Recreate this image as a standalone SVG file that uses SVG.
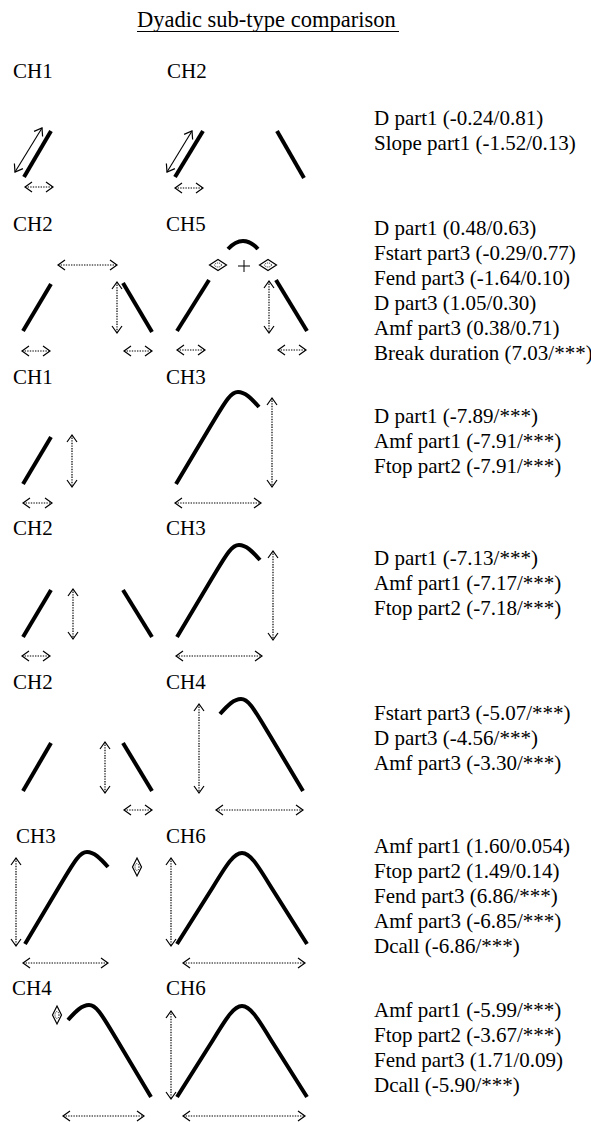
<svg xmlns="http://www.w3.org/2000/svg" width="591" height="1122" viewBox="0 0 591 1122">
<style>
text{font-family:"Liberation Serif","Times New Roman",serif;fill:#000}
.title{font-size:22.5px}
.ch{font-size:21px}
.st{font-size:21px}
.thick{fill:none;stroke:#000;stroke-width:4;stroke-linecap:butt;stroke-linejoin:round}
.dot{fill:none;stroke:#000;stroke-width:1.2;stroke-dasharray:1.4 1.2;marker-start:url(#ah);marker-end:url(#ah)}
.sol{fill:none;stroke:#000;stroke-width:1.1;marker-start:url(#ah);marker-end:url(#ah)}
.dia{fill:#fff;stroke:#000;stroke-width:1.2}
.din{fill:none;stroke:#000;stroke-width:0.9;stroke-dasharray:1 1}
</style>
<defs>
<marker id="ah" markerUnits="userSpaceOnUse" markerWidth="10" markerHeight="12" refX="7" refY="5" orient="auto-start-reverse" overflow="visible">
<path d="M0,0 L7,5 L0,10" fill="none" stroke="#000" stroke-width="1.2"/>
</marker>
<path id="ch3" d="M0,0 L34,-57 C48,-80 54,-92 62,-92 C69,-92 75,-86 83,-77"/>
<path id="ch6" d="M0,0 L36,-57 C50,-80 57,-91 65,-91 C73,-91 80,-80 94,-57 L130,0"/>
</defs>
<rect width="591" height="1122" fill="#fff"/>
<g id="title">
<text class="title" x="137" y="27">Dyadic sub-type comparison</text>
<line x1="137" y1="31.5" x2="399" y2="31.5" stroke="#000" stroke-width="1"/>
</g>

<g id="row1">
<text class="ch" x="13" y="78">CH1</text>
<text class="ch" x="167" y="78">CH2</text>
<line class="thick" x1="51" y1="131" x2="24" y2="177"/>
<line class="thick" x1="203" y1="131" x2="175" y2="177"/>
<line class="thick" x1="277" y1="131" x2="304" y2="178"/>
<text class="st" x="374" y="125">D part1 (-0.24/0.81)</text>
<text class="st" x="374" y="150">Slope part1 (-1.52/0.13)</text>
</g>

<g id="row2">
<text class="ch" x="13" y="231">CH2</text>
<text class="ch" x="166" y="231">CH5</text>
<line class="thick" x1="51" y1="284" x2="23" y2="331"/>
<line class="thick" x1="123" y1="283" x2="152" y2="332"/>
<line class="thick" x1="209" y1="280" x2="177" y2="331"/>
<line class="thick" x1="276" y1="280" x2="307" y2="331"/>
<path class="thick" d="M228,249 Q243,233 258,249"/>
<polygon class="dia" points="209.5,265 218,259.5 226.5,265 218,270.5"/>
<ellipse class="din" cx="218" cy="265" rx="3.5" ry="2"/>
<polygon class="dia" points="259.5,265 268,259.5 276.5,265 268,270.5"/>
<ellipse class="din" cx="268" cy="265" rx="3.5" ry="2"/>
<path d="M238,266 H250 M244,260 V272" stroke="#000" stroke-width="1" fill="none"/>
<text class="st" x="374" y="235">D part1 (0.48/0.63)</text>
<text class="st" x="374" y="260">Fstart part3 (-0.29/0.77)</text>
<text class="st" x="374" y="285">Fend part3 (-1.64/0.10)</text>
<text class="st" x="374" y="310">D part3 (1.05/0.30)</text>
<text class="st" x="374" y="335">Amf part3 (0.38/0.71)</text>
<text class="st" x="374" y="360">Break duration (7.03/***)</text>
</g>

<g id="row3">
<text class="ch" x="13" y="384">CH1</text>
<text class="ch" x="166" y="384">CH3</text>
<line class="thick" x1="51" y1="437" x2="23" y2="484"/>
<use href="#ch3" class="thick" transform="translate(176,484)"/>
<text class="st" x="374" y="423">D part1 (-7.89/***)</text>
<text class="st" x="374" y="448">Amf part1 (-7.91/***)</text>
<text class="st" x="374" y="473">Ftop part2 (-7.91/***)</text>
</g>

<g id="row4">
<text class="ch" x="13" y="535">CH2</text>
<text class="ch" x="166" y="535">CH3</text>
<line class="thick" x1="51" y1="590" x2="23" y2="637"/>
<line class="thick" x1="123" y1="590" x2="152" y2="637"/>
<use href="#ch3" class="thick" transform="translate(177,637)"/>
<text class="st" x="374" y="565">D part1 (-7.13/***)</text>
<text class="st" x="374" y="590">Amf part1 (-7.17/***)</text>
<text class="st" x="374" y="615">Ftop part2 (-7.18/***)</text>
</g>

<g id="row5">
<text class="ch" x="13" y="689">CH2</text>
<text class="ch" x="166" y="689">CH4</text>
<line class="thick" x1="51" y1="743" x2="23" y2="791"/>
<line class="thick" x1="123" y1="743" x2="152" y2="791"/>
<use href="#ch3" class="thick" transform="translate(303,791) scale(-1,1)"/>
<text class="st" x="374" y="720">Fstart part3 (-5.07/***)</text>
<text class="st" x="374" y="745">D part3 (-4.56/***)</text>
<text class="st" x="374" y="770">Amf part3 (-3.30/***)</text>
</g>

<g id="row6">
<text class="ch" x="16" y="843">CH3</text>
<text class="ch" x="166" y="843">CH6</text>
<use href="#ch3" class="thick" transform="translate(25,944)"/>
<use href="#ch6" class="thick" transform="translate(177,944)"/>
<polygon class="dia" points="137,858 141.5,867 137,876 132.5,867"/>
<ellipse class="din" cx="137" cy="867" rx="2" ry="3.5"/>
<text class="st" x="374" y="853">Amf part1 (1.60/0.054)</text>
<text class="st" x="374" y="878">Ftop part2 (1.49/0.14)</text>
<text class="st" x="374" y="903">Fend part3 (6.86/***)</text>
<text class="st" x="374" y="928">Amf part3 (-6.85/***)</text>
<text class="st" x="374" y="953">Dcall (-6.86/***)</text>
</g>

<g id="row7">
<text class="ch" x="12" y="995">CH4</text>
<text class="ch" x="166" y="995">CH6</text>
<use href="#ch3" class="thick" transform="translate(151,1097) scale(-1,1)"/>
<use href="#ch6" class="thick" transform="translate(177,1097)"/>
<polygon class="dia" points="57,1006 61.5,1015 57,1024 52.5,1015"/>
<ellipse class="din" cx="57" cy="1015" rx="2" ry="3.5"/>
<text class="st" x="374" y="1017">Amf part1 (-5.99/***)</text>
<text class="st" x="374" y="1042">Ftop part2 (-3.67/***)</text>
<text class="st" x="374" y="1067">Fend part3 (1.71/0.09)</text>
<text class="st" x="374" y="1092">Dcall (-5.90/***)</text>
</g>

<g id="connectors">
<line class="sol" x1="42" y1="128" x2="15" y2="172"/>
<line class="sol" x1="192" y1="131" x2="167" y2="172"/>
<line class="dot" x1="25" y1="187" x2="53" y2="187"/>
<line class="dot" x1="175" y1="188" x2="203" y2="188"/>

<line class="dot" x1="58" y1="265" x2="117" y2="265"/>
<line class="dot" x1="117" y1="282" x2="117" y2="333"/>
<line class="dot" x1="22" y1="351" x2="50" y2="351"/>
<line class="dot" x1="124" y1="351" x2="152" y2="351"/>
<line class="dot" x1="269" y1="281" x2="269" y2="333"/>
<line class="dot" x1="177" y1="350" x2="205" y2="350"/>
<line class="dot" x1="278" y1="350" x2="306" y2="350"/>

<line class="dot" x1="72" y1="435" x2="72" y2="487"/>
<line class="dot" x1="23" y1="503" x2="52" y2="503"/>
<line class="dot" x1="272" y1="398" x2="272" y2="487"/>
<line class="dot" x1="175" y1="503" x2="261" y2="503"/>

<line class="dot" x1="73" y1="589" x2="73" y2="639"/>
<line class="dot" x1="22" y1="656" x2="50" y2="656"/>
<line class="dot" x1="273" y1="551" x2="273" y2="640"/>
<line class="dot" x1="176" y1="656" x2="262" y2="656"/>

<line class="dot" x1="105" y1="742" x2="105" y2="793"/>
<line class="dot" x1="124" y1="810" x2="152" y2="810"/>
<line class="dot" x1="199" y1="704" x2="199" y2="793"/>
<line class="dot" x1="216" y1="810" x2="303" y2="810"/>

<line class="dot" x1="16" y1="858" x2="16" y2="946"/>
<line class="dot" x1="23" y1="963" x2="108" y2="963"/>
<line class="dot" x1="171" y1="858" x2="171" y2="946"/>
<line class="dot" x1="183" y1="963" x2="305" y2="963"/>

<line class="dot" x1="63" y1="1116" x2="144" y2="1116"/>
<line class="dot" x1="171" y1="1011" x2="171" y2="1099"/>
<line class="dot" x1="183" y1="1116" x2="305" y2="1116"/>
</g>
</svg>
